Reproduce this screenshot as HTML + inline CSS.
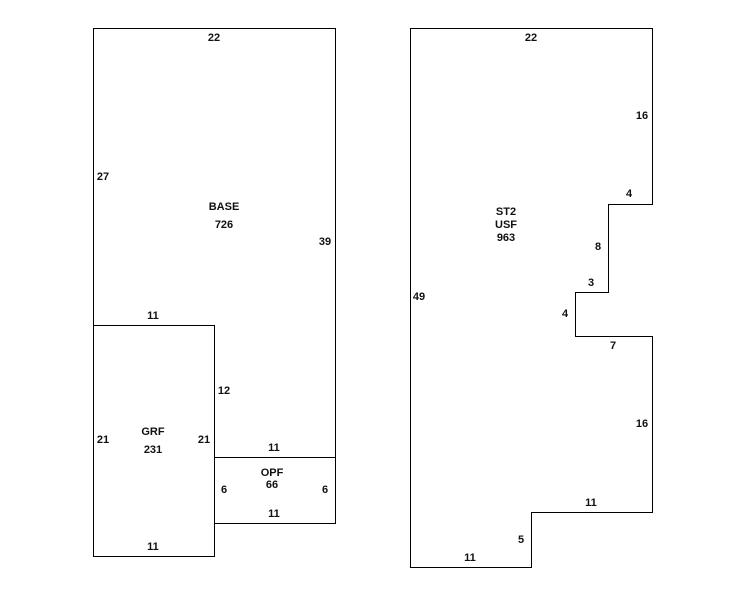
<!DOCTYPE html>
<html><head><style>
html,body{margin:0;padding:0;background:#fff;}
svg text{font-family:"Liberation Sans",Arial,sans-serif;font-size:11px;font-weight:bold;fill:#111;text-anchor:middle;}
</style></head><body>
<svg width="746" height="595" xmlns="http://www.w3.org/2000/svg">
<g fill="none" stroke="#000" stroke-width="1">
<polyline points="93.5,325.5 93.5,28.5 335.5,28.5 335.5,523"/>
<rect x="93.5" y="325.5" width="121" height="231"/>
<rect x="214.5" y="457.5" width="121" height="66"/>
<polygon points="410.5,28.5 652.5,28.5 652.5,204.5 608.5,204.5 608.5,292.5 575.5,292.5 575.5,336.5 652.5,336.5 652.5,512.5 531.5,512.5 531.5,567.5 410.5,567.5"/>
</g>
<g transform="translate(0,-1)">
<text x="214" y="42">22</text>
<text x="103" y="181">27</text>
<text x="224" y="211">BASE</text>
<text x="224" y="229">726</text>
<text x="325" y="246">39</text>
<text x="153" y="320">11</text>
<text x="224" y="395">12</text>
<text x="103" y="444">21</text>
<text x="153" y="436">GRF</text>
<text x="153" y="454">231</text>
<text x="204" y="444">21</text>
<text x="274" y="452">11</text>
<text x="272" y="477">OPF</text>
<text x="272" y="489">66</text>
<text x="224" y="494">6</text>
<text x="325" y="494">6</text>
<text x="274" y="518">11</text>
<text x="153" y="551">11</text>
<text x="531" y="42">22</text>
<text x="642" y="120">16</text>
<text x="629" y="198">4</text>
<text x="506" y="216">ST2</text>
<text x="506" y="229">USF</text>
<text x="506" y="242">963</text>
<text x="598" y="251">8</text>
<text x="591" y="287">3</text>
<text x="419" y="301">49</text>
<text x="565" y="318">4</text>
<text x="613" y="350">7</text>
<text x="642" y="428">16</text>
<text x="591" y="507">11</text>
<text x="521" y="544">5</text>
<text x="470" y="562">11</text>
</g>
</svg>
</body></html>
